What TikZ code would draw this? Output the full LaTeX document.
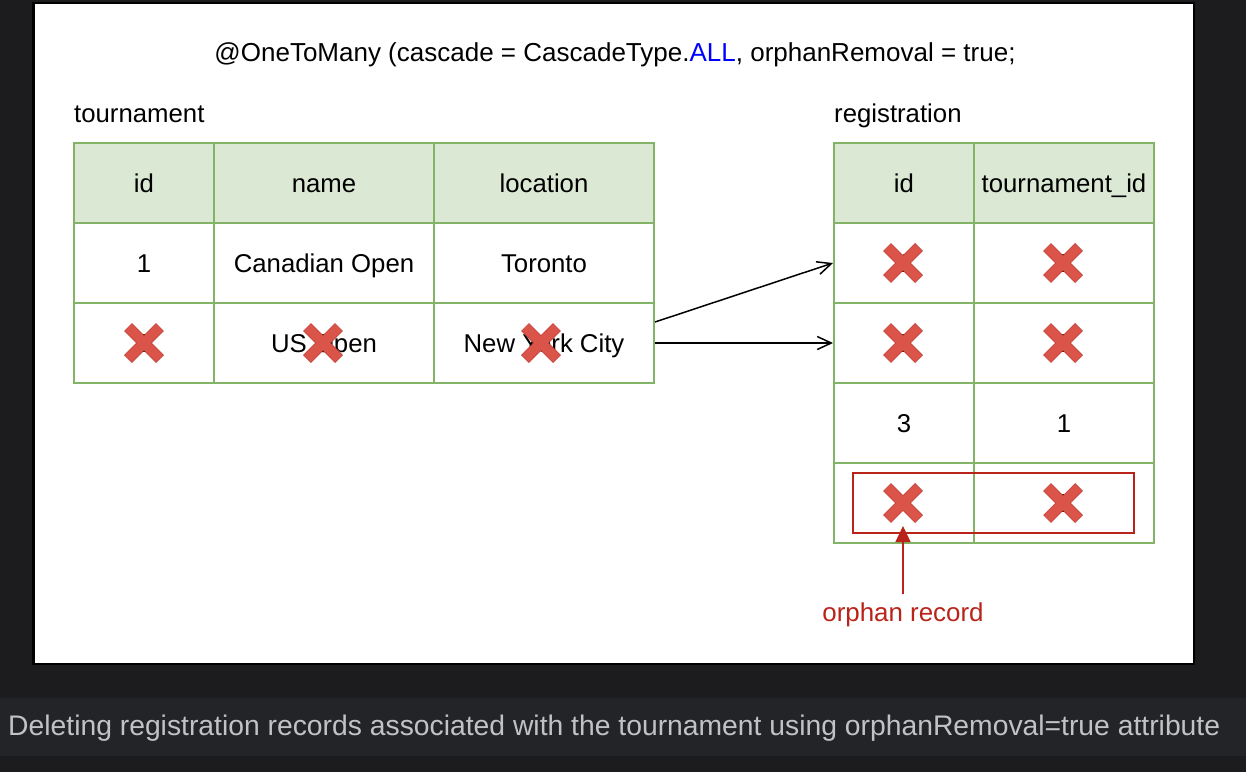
\documentclass[tikz,border=0pt]{standalone}
\usepackage{fontspec}
\setmainfont{Liberation Sans}
\usetikzlibrary{arrows.meta}
\definecolor{bgdark}{RGB}{28,28,30}
\definecolor{bardark}{RGB}{35,36,40}
\definecolor{captxt}{RGB}{194,194,198}
\definecolor{tgreen}{RGB}{130,179,102}
\definecolor{hgreen}{RGB}{218,232,212}
\definecolor{xred}{RGB}{219,84,74}
\definecolor{xedge}{RGB}{196,68,60}
\definecolor{dred}{RGB}{185,35,25}
\definecolor{allblue}{RGB}{0,0,255}
\newcommand{\cellfont}{\fontsize{25.75pt}{30pt}\selectfont}
\tikzset{
  cell/.style={draw=tgreen, line width=2pt, minimum height=80pt, inner sep=0pt,
    text height=18.4pt, text depth=0pt, font=\cellfont, anchor=center},
  head/.style={cell, fill=hgreen},
  wA/.style={minimum width=140pt},
  wB/.style={minimum width=220pt},
  wC/.style={minimum width=180pt},
  lbl/.style={font=\cellfont, inner sep=0pt, anchor=base west},
  link/.style={draw=black, line width=1.5pt, -{Straight Barb[length=14pt,width=13pt,line width=1.5pt]}},
  xmo/.style={draw=xedge, line width=11pt, line cap=butt},
  xmi/.style={draw=xred, line width=9.4pt, line cap=butt},
  xpic/.pic={
    \draw[xmo] (-16pt,-16pt) -- (16pt,16pt);
    \draw[xmo] (-16pt,16pt) -- (16pt,-16pt);
    \draw[xmi] (-15.6pt,-15.6pt) -- (15.6pt,15.6pt);
    \draw[xmi] (-15.6pt,15.6pt) -- (15.6pt,-15.6pt);
  }
}
\begin{document}
\begin{tikzpicture}[x=1pt,y=-1pt]
\useasboundingbox (0,0) rectangle (1246,772);
\fill[bgdark] (0,0) rectangle (1246,772);
\fill[bardark] (0,698) rectangle (1246,756);
\draw[black, line width=2.4pt, fill=white] (33.5,3.2) rectangle (1194,664);

% title
\node[font=\fontsize{26pt}{30pt}\selectfont, inner sep=0pt, anchor=base] (title) at (615,61)
  {@OneToMany (cascade = CascadeType.\textcolor{allblue}{ALL}, orphanRemoval = true;};

% labels
\node[lbl] (tlabel) at (74,122) {tournament};
\node[lbl] (rlabel) at (834,122) {registration};

% tournament table
\node[head,wA] (t11) at (144,183) {id};
\node[head,wB] (t12) at (324,183) {name};
\node[head,wB] (t13) at (544,183) {location};
\node[cell,wA] (t21) at (144,263) {1};
\node[cell,wB] (t22) at (324,263) {Canadian Open};
\node[cell,wB] (t23) at (544,263) {Toronto};
\node[cell,wA] (t31) at (144,343) {2};
\node[cell,wB] (t32) at (324,343) {US Open};
\node[cell,wB] (t33) at (544,343) {New York City};

% registration table
\node[head,wA] (r11) at (904,183) {id};
\node[head,wC] (r12) at (1064,183) {tournament\_id};
\node[cell,wA] (r21) at (904,263) {1};
\node[cell,wC] (r22) at (1064,263) {2};
\node[cell,wA] (r31) at (904,343) {2};
\node[cell,wC] (r32) at (1064,343) {2};
\node[cell,wA] (r41) at (904,423) {3};
\node[cell,wC] (r42) at (1064,423) {1};
\node[cell,wA] (r51) at (904,503) {4};
\node[cell,wC] (r52) at (1064,503) {2};

% orphan highlight
\node[draw=dred, line width=2pt, minimum width=281pt, minimum height=60pt, inner sep=0pt] (orect) at (993.5,503) {};

% crosses
\pic at (t31) {xpic};
\pic at ([xshift=-1pt]t32.center) {xpic};
\pic at ([xshift=-3pt]t33.center) {xpic};
\pic at ([xshift=-1pt]r21.center) {xpic};
\pic at ([xshift=-1pt]r22.center) {xpic};
\pic at ([xshift=-1pt]r31.center) {xpic};
\pic at ([xshift=-1pt]r32.center) {xpic};
\pic at ([xshift=-1pt]r51.center) {xpic};
\pic at ([xshift=-1pt]r52.center) {xpic};

% connectors
\draw[link] ([yshift=21pt]t33.east) -- (r21.west);
\draw[link] (t33.east) -- (r31.west);

% orphan label and arrow
\node[font=\fontsize{25.9pt}{30pt}\selectfont, text=dred, inner sep=0pt, anchor=base] (olabel) at (903,621) {orphan record};
\draw[dred, line width=1.5pt, -{Triangle[length=16pt,width=15pt]}] ([yshift=8pt]olabel.north) -- ([yshift=8pt]olabel.north |- orect.south);

% caption
\node[text=captxt, inner sep=0pt, anchor=base west] (caption) at (8,735)
  {\resizebox{1212pt}{!}{\fontsize{28pt}{32pt}\selectfont Deleting registration records associated with the tournament using orphanRemoval=true attribute}};
\end{tikzpicture}
\end{document}
